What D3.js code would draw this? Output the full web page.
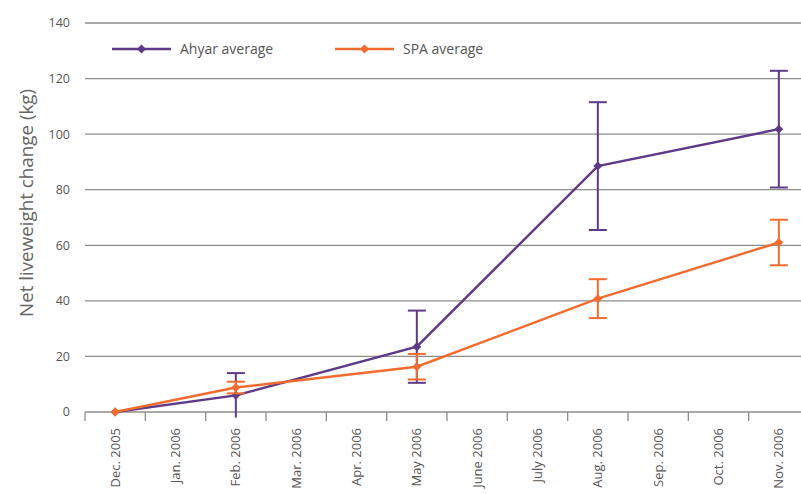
<!DOCTYPE html>
<html>
<head>
<meta charset="utf-8">
<script src="https://cdn.jsdelivr.net/npm/d3@7"></script>
<style>
  html, body { margin: 0; padding: 0; background: #fff; }
  svg { display: block; font-family: "Open Sans", "Noto Sans", sans-serif; }
</style>
</head>
<body>
<svg id="chart" width="801" height="494"></svg>
<script>
// Months along the x axis
const months = ["Dec. 2005", "Jan. 2006", "Feb. 2006", "Mar. 2006", "Apr. 2006", "May 2006",
                "June 2006", "July 2006", "Aug. 2006", "Sep. 2006", "Oct. 2006", "Nov. 2006"];
// Measurement months
const sampleMonths = ["Dec. 2005", "Feb. 2006", "May 2006", "Aug. 2006", "Nov. 2006"];
// Net liveweight change (kg) and error half-widths
const ahyarValues = [0, 6, 23.5, 88.5, 101.8];
const ahyarErrors = [0, 8, 13, 23, 21];
const spaValues = [0, 8.8, 16.3, 40.8, 61];
const spaErrors = [0, 2.1, 4.6, 7, 8.2];
const yTicks = [0, 20, 40, 60, 80, 100, 120, 140];

const svg = d3.select("#chart");
const plotL = 85, plotR = 809, plotT = 23, plotB = 412;

const x = d3.scaleBand().domain(months).range([plotL, plotR]);
const y = d3.scaleLinear().domain([0, 140]).range([plotB, plotT]);

// Gridlines
svg.append("g").selectAll("line").data(yTicks.filter(d => d > 0)).join("line")
  .attr("x1", plotL).attr("x2", 801)
  .attr("y1", d => y(d)).attr("y2", d => y(d))
  .attr("stroke", "#8c8c8c").attr("stroke-width", 1.3);

// Y tick labels
svg.append("g").selectAll("text").data(yTicks).join("text")
  .attr("x", 70).attr("y", d => y(d)).attr("dy", "0.35em")
  .attr("text-anchor", "end").attr("font-size", 12.5).attr("fill", "#555")
  .text(d => d);

// X axis
const gx = svg.append("g").attr("transform", `translate(0,${plotB})`);
gx.append("line").attr("x1", plotL).attr("x2", 801).attr("y1", 0).attr("y2", 0)
  .attr("stroke", "#8c8c8c").attr("stroke-width", 1.3);
// tick marks at band boundaries
gx.selectAll("line.tk").data(months).join("line").attr("class", "tk")
  .attr("x1", d => x(d)).attr("x2", d => x(d)).attr("y1", 0).attr("y2", 9)
  .attr("stroke", "#8c8c8c").attr("stroke-width", 1.3);
gx.selectAll("text").data(months).join("text")
  .attr("transform", d => `translate(${x(d) + x.bandwidth() / 2 + 4.5},16) rotate(-90)`)
  .attr("text-anchor", "end").attr("font-size", 13).attr("fill", "#555")
  .text(d => d);

// Y axis title
svg.append("text")
  .attr("transform", `translate(33,203) rotate(-90)`)
  .attr("text-anchor", "middle").attr("font-size", 18.8).attr("font-weight", 400)
  .attr("fill", "#666").text("Net liveweight change (kg)");

const cx = m => x(m) + x.bandwidth() / 2;
// diamond marker: a square turned 45 degrees
const diamond = d3.symbol().type(d3.symbolSquare).size(40);

function drawSeries(values, errors, color) {
  const pts = sampleMonths.map((m, i) => ({ m, v: values[i], e: errors[i] }));
  const g = svg.append("g");
  // error bars; a bar running below the axis loses its lower cap
  const eb = g.selectAll("g.eb").data(pts.filter(p => p.e > 0)).join("g");
  eb.append("line").attr("x1", p => cx(p.m)).attr("x2", p => cx(p.m))
    .attr("y1", p => y(p.v - p.e)).attr("y2", p => y(p.v + p.e))
    .attr("stroke", color).attr("stroke-width", 2);
  [1, -1].forEach(s => {
    eb.filter(p => p.v + s * p.e >= 0)
      .append("line").attr("x1", p => cx(p.m) - 9).attr("x2", p => cx(p.m) + 9)
      .attr("y1", p => y(p.v + s * p.e)).attr("y2", p => y(p.v + s * p.e))
      .attr("stroke", color).attr("stroke-width", 2);
  });
  // line
  g.append("path").datum(pts)
    .attr("d", d3.line().x(p => cx(p.m)).y(p => y(p.v)))
    .attr("fill", "none").attr("stroke", color).attr("stroke-width", 2.4);
  // markers
  g.selectAll("path.mk").data(pts).join("path").attr("class", "mk")
    .attr("d", diamond).attr("transform", p => `translate(${cx(p.m)},${y(p.v)}) rotate(45)`)
    .attr("fill", color);
}

const purple = "#5e3a87", orange = "#f26b2f";
drawSeries(ahyarValues, ahyarErrors, purple);
drawSeries(spaValues, spaErrors, orange);

// Legend
const legend = [{ name: "Ahyar average", color: purple, x: 112 }, { name: "SPA average", color: orange, x: 335 }];
const lg = svg.append("g").selectAll("g").data(legend).join("g")
  .attr("transform", d => `translate(${d.x},49)`);
lg.append("line").attr("x1", 0).attr("x2", 59).attr("stroke", d => d.color).attr("stroke-width", 2.4);
lg.append("path").attr("d", diamond).attr("transform", "translate(29.5,0) rotate(45)").attr("fill", d => d.color);
lg.append("text").attr("x", 68).attr("dy", "0.35em").attr("font-size", 14).attr("fill", "#555")
  .text(d => d.name);
</script>
</body>
</html>
